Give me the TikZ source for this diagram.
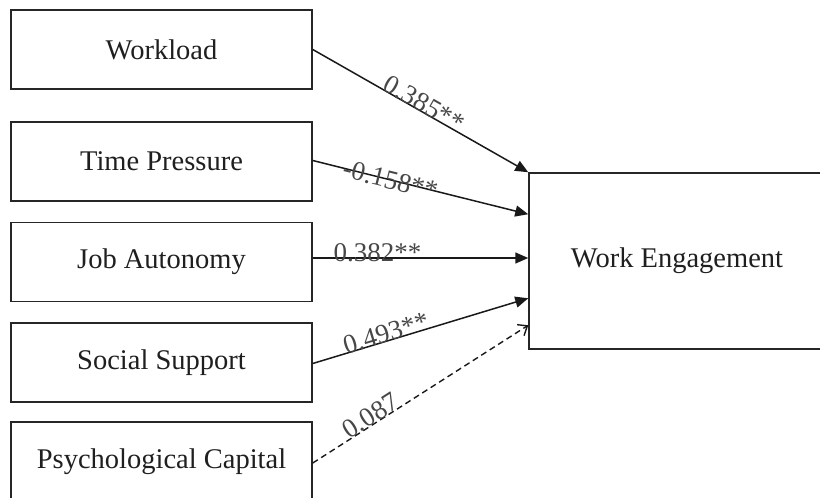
\documentclass[tikz,border=0pt]{standalone}
\usepackage{fontspec}
\setmainfont{Liberation Serif}
\usetikzlibrary{arrows.meta,calc}
\begin{document}
\begin{tikzpicture}[x=1pt,y=-1pt,
  box/.style={draw=black!85,line width=1.5pt,minimum width=301pt,minimum height=79pt,inner sep=0pt,
    font=\fontsize{28.5}{34}\selectfont,text=black!88},
  pathline/.style={draw=black!90,line width=1.5pt,-{Triangle[length=13pt,width=11pt]}},
  weakline/.style={draw=black!90,line width=1.4pt,dash pattern=on 6pt off 4pt,-{Straight Barb[length=8pt,width=13pt]}},
  lbl/.style={font=\fontsize{27}{32}\selectfont,text=black!72,sloped,inner sep=0pt}]
\useasboundingbox (0,0) rectangle (820,498);
\clip (0,0) rectangle (820,498);
\node[box] (wl) at (161.5,49.5) {Workload};
\node[box] (tp) at (161.5,161.5) {Time Pressure};
\node[box] (ja) at (161.5,262) {Job Autonomy};
\node[box] (ss) at (161.5,362.5) {Social Support};
\node[box,minimum height=80pt] (pc) at (161.5,462) {Psychological Capital};
\node[box,minimum width=296pt,minimum height=176pt] (we) at (677,261) {Work Engagement};

\draw[pathline] (wl.east) -- (we.north west)
  node[lbl,pos=0.5,above=-2pt] {0.385**};
\draw[pathline] ([yshift=1pt]tp.east) -- ([yshift=-42pt]we.north west)
  node[lbl,pos=0.36] {-0.158**};
\draw[pathline] ([yshift=4pt]ja.east) -- ([yshift=4pt]ja.east -| we.west)
  node[lbl,pos=0.30,yshift=5pt] {0.382**};
\draw[pathline] ([yshift=-1pt]ss.east) -- ([yshift=-126pt]we.north west)
  node[lbl,pos=0.35,above=-2pt] {0.493**};
\draw[weakline] ([yshift=-1pt]pc.east) -- ([yshift=-153pt]we.north west)
  node[lbl,pos=0.29,above=-1pt] {0.087};
\end{tikzpicture}
\end{document}
